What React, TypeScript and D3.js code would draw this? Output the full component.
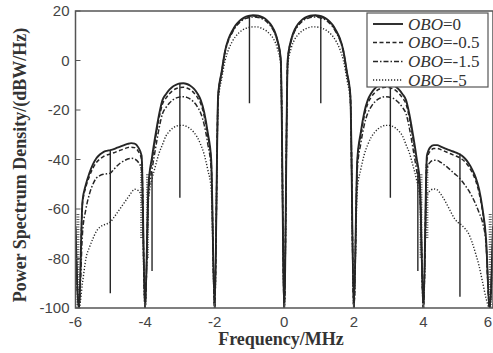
import React from 'react';
import * as d3 from 'd3';

// Frequency grid (MHz) -6.0 .. 6.0 step 0.1
const freqs: number[] = d3.range(121).map((i) => Math.round((-6 + i * 0.1) * 10) / 10);

// Power spectrum density (dBW/Hz)
const obo0: number[] = [
  -67, -100, -57, -50, -45.5, -42, -39.5, -38, -37, -36.5, -36.2, -35.8, -35.2, -34.7, -34.2, -33.7, -33.4, -33.6, -35, -38.5,
  -100, -50, -39, -30, -22, -16, -13.6, -11.8, -10.5, -9.7, -9.3, -9.2, -9.5, -10.2, -11.4, -13.2, -16, -21, -29, -40,
  -100, -14, -4.6, 4, 8.9, 11.8, 14.2, 15.8, 17, 17.7, 18.1, 18.3, 18.2, 17.9, 17.3, 16.3, 14.8, 12.5, 8.5, 0.5,
  -100, 0.5, 8.5, 12.5, 14.8, 16.3, 17.3, 17.9, 18.2, 18.3, 18.1, 17.7, 17, 15.8, 14.2, 11.8, 8.9, 4, -4.6, -14,
  -100, -40, -29, -21, -16, -13.2, -11.4, -10.2, -9.5, -9.2, -9.3, -9.7, -10.5, -11.8, -13.6, -16, -22, -30, -39, -50,
  -100, -38.5, -35, -34.2, -34.2, -34.8, -35.4, -36, -36.5, -37, -37.6, -38.4, -39.7, -41.5, -44, -47.2, -52, -60, -72, -100,
  -67,
];
const obo05: number[] = [
  -68, -100, -58, -51, -46.8, -43.5, -41.2, -39.8, -38.8, -38.2, -37.8, -37.3, -36.7, -36.2, -35.7, -35.2, -35, -35.2, -36.6, -40,
  -100, -51, -40.5, -31.5, -23.5, -17.6, -15.2, -13.4, -12.1, -11.3, -10.9, -10.8, -11.1, -11.8, -13, -14.8, -17.5, -22.5, -30.3, -41,
  -100, -14.3, -4.9, 3.7, 8.6, 11.5, 13.9, 15.5, 16.7, 17.4, 17.8, 18, 17.9, 17.6, 17, 16, 14.5, 12.2, 8.2, 0.2,
  -100, 0.2, 8.2, 12.2, 14.5, 16, 17, 17.6, 17.9, 18, 17.8, 17.4, 16.7, 15.5, 13.9, 11.5, 8.6, 3.7, -4.9, -14.3,
  -100, -41, -30.3, -22.5, -17.5, -14.8, -13, -11.8, -11.1, -10.8, -10.9, -11.3, -12.1, -13.4, -15.2, -17.6, -23.5, -31.5, -40.5, -51,
  -100, -40, -36.5, -35.6, -35.5, -36, -36.6, -37.2, -37.8, -38.4, -39, -39.8, -41, -42.8, -45.2, -48.5, -53.5, -61, -73, -100,
  -68,
];
const obo15: number[] = [
  -70, -100, -70, -60, -54, -50, -47.5, -46.5, -46, -45.8, -45.5, -44, -42.5, -41.3, -40.5, -39.8, -39.5, -39.8, -41, -44,
  -100, -54, -44, -35.5, -27.5, -21.5, -19, -17.2, -15.9, -15.1, -14.7, -14.6, -14.9, -15.6, -16.8, -18.6, -21.3, -26, -33.5, -44,
  -100, -14.8, -5.3, 3.3, 8.2, 11.1, 13.5, 15.1, 16.3, 17, 17.4, 17.6, 17.5, 17.2, 16.6, 15.6, 14.1, 11.8, 7.8, -0.2,
  -100, -0.2, 7.8, 11.8, 14.1, 15.6, 16.6, 17.2, 17.5, 17.6, 17.4, 17, 16.3, 15.1, 13.5, 11.1, 8.2, 3.3, -5.3, -14.8,
  -100, -44, -33.5, -26, -21.3, -18.6, -16.8, -15.6, -14.9, -14.6, -14.7, -15.1, -15.9, -17.2, -19, -21.5, -27.5, -35.5, -44, -54,
  -100, -44, -41, -40.3, -40.4, -41.2, -42.2, -43.3, -44.5, -45.8, -47, -48.6, -50.5, -52.5, -55, -58, -61.5, -65.5, -74, -100,
  -70,
];
const obo5: number[] = [
  -78, -100, -90, -80, -75.5, -72, -69, -67.3, -66.5, -66, -65.3, -63.5, -61.5, -59.5, -57.5, -55.5, -53.5, -52, -52.5, -55,
  -100, -56, -48, -42.5, -37.5, -34, -30.5, -28.6, -27.3, -26.5, -26.2, -26.2, -26.7, -27.6, -29, -31, -34, -38, -44, -52,
  -100, -17, -7.5, 0, 4.5, 7.5, 9.7, 11.2, 12.3, 13, 13.4, 13.6, 13.6, 13.3, 12.7, 11.8, 10.5, 8.5, 5, -2,
  -100, -2, 5, 8.5, 10.5, 11.8, 12.7, 13.3, 13.6, 13.6, 13.4, 13, 12.3, 11.2, 9.7, 7.5, 4.5, 0, -7.5, -17,
  -100, -52, -44, -38, -34, -31, -29, -27.6, -26.7, -26.2, -26.2, -26.5, -27.3, -28.6, -30.5, -34, -37.5, -42.5, -48, -56,
  -100, -55, -52.5, -51.9, -52.3, -54, -56.2, -58.8, -61.5, -64, -65.5, -66.5, -68, -70, -73.5, -78, -83, -89.5, -96, -100,
  -80,
];

// Narrow carrier spikes
const spikeFreqs = [-5, -3.8, -3, -1, 1.05, 3.05, 3.84, 5.05];
const spikeTops = [-36.2, -45, -9.3, 18.1, 18.1, -9.3, -45, -37.6];
const spikeBottoms = [-94, -85, -55.5, -17.3, -17.3, -55.5, -85, -95.5];

// Dense oscillation bands near the nulls
const fuzzFreqs = [-5.93, -4.1, -3.93, 3.93, 4.1, 5.92];
const fuzzTops = [-62, -42, -46, -46, -42, -62];
const fuzzBottoms = [-100, -72, -80, -80, -72, -100];

const seriesNames = ['0', '-0.5', '-1.5', '-5'];
const seriesValues = [obo0, obo05, obo15, obo5];
const seriesDash = ['none', '4,2.5', '5,2,1.5,2', '1.2,1.8'];
const seriesWidth = [1.9, 1.5, 1.5, 1.4];

const xTicks = [-6, -4, -2, 0, 2, 4, 6];
const yTicks = [-100, -80, -60, -40, -20, 0, 20];

const W = 493;
const H = 353;
const M = { left: 75.5, right: 493, top: 11, bottom: 308 };

export default function App() {
  const x = d3.scaleLinear().domain([-6, 6]).range([M.left, M.right]);
  const y = d3.scaleLinear().domain([-100, 20]).range([M.bottom, M.top]);
  const line = d3
    .line<number>()
    .x((_, i) => x(freqs[i]))
    .y((d) => y(d))
    .curve(d3.curveMonotoneX);

  const ink = '#262626';
  const legX = 367;
  const legY = 13;
  const legRows = [24, 42.5, 61.5, 80];

  return (
    <svg
      width={W}
      height={H}
      style={{ position: 'absolute', left: 0, top: 0, background: '#fff' }}
    >
      <defs>
        <clipPath id="plot">
          <rect x={M.left} y={M.top} width={M.right - M.left} height={M.bottom - M.top} />
        </clipPath>
      </defs>
      <rect x={0} y={0} width={W} height={H} fill="#fff" />
      <g clipPath="url(#plot)">
        {fuzzFreqs.map((f, i) => (
          <line
            key={'fz' + i}
            x1={x(f)}
            x2={x(f)}
            y1={y(fuzzTops[i])}
            y2={y(fuzzBottoms[i])}
            stroke={ink}
            strokeWidth={3}
            strokeDasharray="1,1.5"
            opacity={0.75}
          />
        ))}
        {seriesValues.map((vals, k) => (
          <path
            key={'s' + k}
            d={line(vals) || ''}
            fill="none"
            stroke={ink}
            strokeWidth={seriesWidth[k]}
            strokeDasharray={seriesDash[k]}
          />
        ))}
        {spikeFreqs.map((f, i) => (
          <line
            key={'sp' + i}
            x1={x(f)}
            x2={x(f)}
            y1={y(spikeTops[i])}
            y2={y(spikeBottoms[i])}
            stroke={ink}
            strokeWidth={1.4}
          />
        ))}
      </g>
      {/* frame */}
      <rect
        x={M.left}
        y={M.top}
        width={M.right - M.left}
        height={M.bottom - M.top}
        fill="none"
        stroke="#555"
        strokeWidth={1.5}
      />
      {yTicks.map((t) => (
        <g key={'yt' + t}>
          <line x1={M.left} x2={M.left + 5} y1={y(t)} y2={y(t)} stroke="#555" strokeWidth={1} />
          <text
            x={M.left - 6}
            y={y(t)}
            dy="0.36em"
            textAnchor="end"
            fontFamily="'Liberation Sans', Arial, sans-serif"
            fontSize={15}
            fill="#444"
          >
            {t}
          </text>
        </g>
      ))}
      {xTicks.map((t) => (
        <g key={'xt' + t}>
          <line x1={x(t)} x2={x(t)} y1={M.bottom} y2={M.bottom - 5} stroke="#555" strokeWidth={1} />
          <text
            x={Math.min(x(t), W - 5)}
            y={327}
            textAnchor="middle"
            fontFamily="'Liberation Sans', Arial, sans-serif"
            fontSize={15}
            fill="#444"
          >
            {t}
          </text>
        </g>
      ))}
      <text
        x={281}
        y={345}
        textAnchor="middle"
        fontFamily="'Liberation Serif', 'Times New Roman', serif"
        fontWeight="bold"
        fontSize={18}
        fill="#333"
      >
        Frequency/MHz
      </text>
      <text
        transform="translate(26,165) rotate(-90)"
        textAnchor="middle"
        fontFamily="'Liberation Serif', 'Times New Roman', serif"
        fontWeight="bold"
        fontSize={18}
        fill="#333"
      >
        Power Spectrum Density/(dBW/Hz)
      </text>
      {/* legend */}
      <rect x={legX} y={legY} width={121} height={74} fill="#fff" stroke="#555" strokeWidth={1.2} />
      {seriesNames.map((n, k) => (
        <g key={'lg' + k}>
          <line
            x1={373}
            x2={403}
            y1={legRows[k]}
            y2={legRows[k]}
            stroke={ink}
            strokeWidth={seriesWidth[k]}
            strokeDasharray={seriesDash[k]}
          />
          <text
            x={408}
            y={legRows[k]}
            dy="0.35em"
            fontFamily="'Liberation Serif', 'Times New Roman', serif"
            fontSize={17}
            fill="#333"
          >
            <tspan fontStyle="italic">OBO</tspan>={n}
          </text>
        </g>
      ))}
    </svg>
  );
}
